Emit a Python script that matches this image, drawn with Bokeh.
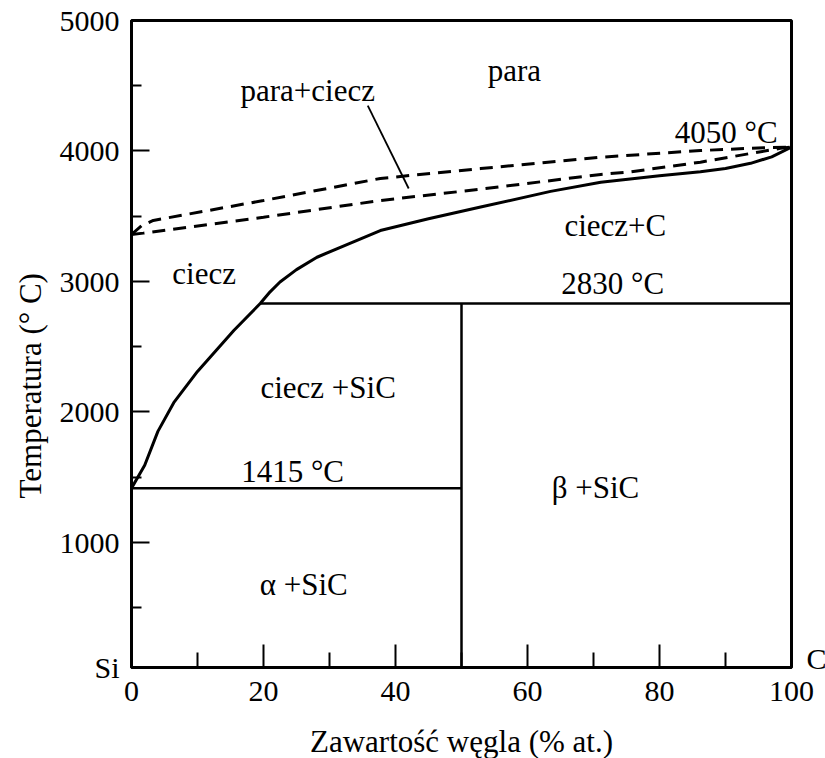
import math
from bokeh.plotting import figure
from bokeh.models import Range1d, FixedTicker, ColumnDataSource, LinearAxis, Title
from bokeh.core.properties import value
from bokeh.embed import file_html
from bokeh.resources import INLINE

FONT = "Liberation Serif"

# ---- data ----
# liquidus (solid curve), % at. C vs temperature
liq_x = [0, 2, 4, 6.4, 10, 15.5, 19.5, 21, 22.5, 25, 28.1, 33, 37.7, 45, 52.9, 63.5, 71.1, 80, 86.2, 90, 93.8, 97, 100]
liq_y = [1415, 1590, 1850, 2070, 2310, 2624, 2830, 2920, 2995, 3090, 3185, 3290, 3390, 3480, 3570, 3690, 3760, 3810, 3840, 3865, 3905, 3955, 4030]

# upper dashed boundary (para / para+ciecz)
up_x = [0, 1.5, 3.3, 20, 37.7, 52.9, 71.1, 86.2, 96, 100]
up_y = [3360, 3425, 3467, 3620, 3789, 3865, 3952, 4003, 4025, 4030]

# lower dashed boundary (para+ciecz / ciecz)
lo_x = [0, 1.8, 20, 37.7, 52.9, 71.1, 75.6, 86.2, 98.3, 100]
lo_y = [3360, 3370, 3492, 3620, 3707, 3820, 3840, 3914, 4020, 4030]

# isotherms and SiC line
eut_x = [19.5, 100]
eut_y = [2830, 2830]
mono_x = [0, 50]
mono_y = [1415, 1415]
sic_x = [50, 50]
sic_y = [0, 2830]

# leader line for "para+ciecz"
lead_x = [35.8, 42]
lead_y = [4348, 3712]

# region labels
reg_text = ["para", "para+ciecz", "4050 °C", "ciecz+C", "2830 °C", "ciecz",
            "ciecz +SiC", "1415 °C", "β +SiC", "α +SiC"]
reg_x = [58.0, 26.7, 90.1, 73.3, 72.9, 11.0, 29.8, 24.4, 70.3, 26.1]
reg_y = [4615, 4462, 4140, 3427, 2982, 3059, 2185, 1540, 1418, 675]

x_ticks = [0, 20, 40, 60, 80, 100]
x_minor = [10, 30, 50, 70, 90]
y_ticks = [40, 1000, 2000, 3000, 4000, 5000]
y_minor = [500, 1500, 2500, 3500, 4500]
y_overrides = {40: "Si"}
c_tick = [109]
c_overrides = {109: "C"}

x_title = "Zawartość węgla (% at.)"
y_title = "Temperatura (° C)"

# ---- figure ----
p = figure(frame_width=660, frame_height=647,
           x_range=Range1d(0, 100), y_range=Range1d(40, 5000),
           output_backend="svg", toolbar_location=None,
           min_border_left=131, min_border_right=34,
           min_border_top=20, min_border_bottom=91)
p.background_fill_color = "white"
p.border_fill_color = "white"
p.outline_line_color = "black"
p.outline_line_width = 3
p.xgrid.visible = False
p.ygrid.visible = False

for ax in (p.xaxis[0], p.yaxis[0]):
    ax.axis_line_width = 3
    ax.axis_line_color = "black"
    ax.major_tick_out = 0
    ax.minor_tick_out = 0
    ax.major_tick_line_width = 2
    ax.minor_tick_line_width = 2
    ax.major_tick_line_color = "black"
    ax.minor_tick_line_color = "black"
    ax.major_label_text_font = FONT
    ax.major_label_text_font_size = "30px"
    ax.major_label_text_color = "black"

p.xaxis.ticker = FixedTicker(ticks=x_ticks, minor_ticks=x_minor)
p.yaxis.ticker = FixedTicker(ticks=y_ticks, minor_ticks=y_minor)
p.yaxis.major_label_overrides = y_overrides
p.xaxis.major_tick_in = 23
p.xaxis.minor_tick_in = 15
p.yaxis.major_tick_in = 18
p.yaxis.minor_tick_in = 10
p.xaxis.major_label_standoff = 14
p.yaxis.major_label_standoff = 12

p.xaxis.axis_label = x_title
p.xaxis.axis_label_text_font = FONT
p.xaxis.axis_label_text_font_size = "31px"
p.xaxis.axis_label_text_font_style = "normal"
p.xaxis.axis_label_text_color = "black"
p.xaxis.axis_label_standoff = 20

# right axis carrying only the "C" end label
rax = LinearAxis(ticker=FixedTicker(ticks=c_tick, minor_ticks=[]),
                 major_label_overrides=c_overrides,
                 axis_line_color=None, major_tick_in=0, major_tick_out=0,
                 minor_tick_in=0, minor_tick_out=0,
                 major_label_text_font=FONT, major_label_text_font_size="30px",
                 major_label_text_color="black", major_label_standoff=15)
p.add_layout(rax, "right")

# y title as a side title, placed along the axis
p.add_layout(Title(text=y_title, align="left", offset=169,
                   text_font=FONT, text_font_size="31px", text_font_style="normal",
                   text_color="black", standoff=18), "left")

# ---- lines ----
p.line(liq_x, liq_y, line_color="black", line_width=3, line_join="round")
p.line(up_x, up_y, line_color="black", line_width=3, line_dash="13 8")
p.line(lo_x, lo_y, line_color="black", line_width=3, line_dash="13 8")
p.line(eut_x, eut_y, line_color="black", line_width=2.5)
p.line(mono_x, mono_y, line_color="black", line_width=2.5)
p.line(sic_x, sic_y, line_color="black", line_width=2.5)
p.line(lead_x, lead_y, line_color="black", line_width=1.8)

src = ColumnDataSource(dict(x=reg_x, y=reg_y, t=reg_text))
p.text(x="x", y="y", text="t", source=src, text_font=value(FONT),
       text_font_size="31px", text_align="center", text_baseline="alphabetic",
       text_color="black")

open("out.html", "w").write(file_html(p, INLINE))
